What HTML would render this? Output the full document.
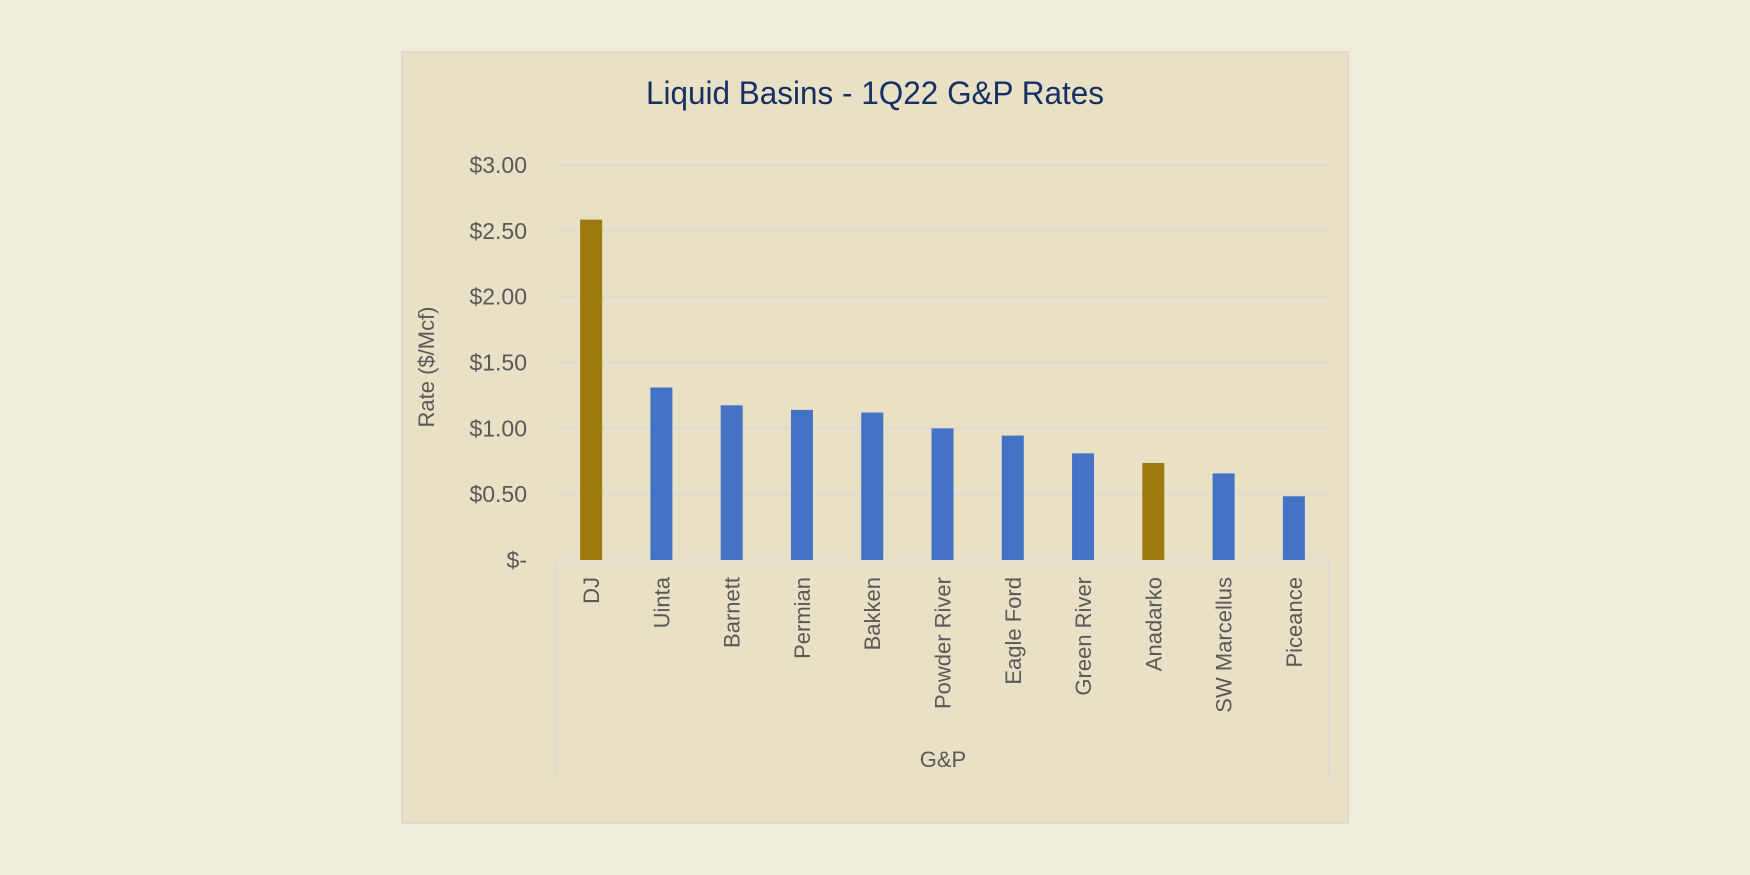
<!DOCTYPE html>
<html><head><meta charset="utf-8"><style>
html,body{margin:0;padding:0;background:#f1eddc;width:1750px;height:875px;overflow:hidden}
svg{display:block;font-family:"Liberation Sans",sans-serif}
</style></head><body>
<svg id="chart" width="1750" height="875" viewBox="0 0 1750 875" xmlns="http://www.w3.org/2000/svg">
<rect x="402" y="52" width="946" height="771" fill="#e8e1c5" stroke="#d9d6cc" stroke-width="1.5"/>
<text x="875" y="104" text-anchor="middle" font-size="32" fill="#172f63" textLength="458" lengthAdjust="spacingAndGlyphs">Liquid Basins - 1Q22 G&amp;P Rates</text>
<text transform="translate(434,367) rotate(-90)" text-anchor="middle" font-size="22" fill="#595959">Rate ($/Mcf)</text>
<text x="943" y="767" text-anchor="middle" font-size="22" fill="#595959">G&amp;P</text>
<g id="grid"></g><g id="bars"></g><g id="labels"></g>
</svg>
<script>
const categories = ["DJ","Uinta","Barnett","Permian","Bakken","Powder River","Eagle Ford","Green River","Anadarko","SW Marcellus","Piceance"];
const values = [2.585,1.31,1.175,1.14,1.12,1.0,0.945,0.81,0.737,0.658,0.484];
const highlighted = [true,false,false,false,false,false,false,false,true,false,false];
const yTicks = [0,0.5,1,1.5,2,2.5,3];
const yTickLabels = ["$-","$0.50","$1.00","$1.50","$2.00","$2.50","$3.00"];

const NS = "http://www.w3.org/2000/svg";
const plotL = 556, plotR = 1329, baseY = 560, topY = 165, yMax = 3;
const band = (plotR - plotL) / categories.length;
const barW = 22;
const y = v => baseY - (v / yMax) * (baseY - topY);
const xC = i => plotL + band * (i + 0.5);
function mk(tag, attrs, parent){const e=document.createElementNS(NS,tag);for(const k in attrs)e.setAttribute(k,attrs[k]);parent.appendChild(e);return e;}
const grid = document.getElementById('grid'), bars = document.getElementById('bars'), labels = document.getElementById('labels');

yTicks.forEach((t,i)=>{
  if(t>0){
    const g = mk('line',{x1:plotL,x2:plotR,y1:y(t),y2:y(t),stroke:'#d9d9d9','stroke-width':1.5},grid);
    
    
  }
  const tx = mk('text',{x:527,y:y(t)+8,'text-anchor':'end','font-size':23,fill:'#595959'},grid);
  tx.textContent = yTickLabels[i];
  
  
});
// category axis box
const ax = mk('path',{d:`M${plotL},775 V${baseY} H${plotR} V775`,fill:'none',stroke:'#d9d9d9','stroke-width':1.5},grid);



categories.forEach((c,i)=>{
  const r = mk('rect',{x:xC(i)-barW/2,y:y(values[i]),width:barW,height:baseY-y(values[i]),fill:highlighted[i]?'#9c7a0d':'#4472c4'},bars);
  
  
  const t = mk('text',{transform:`translate(${xC(i)+8},577) rotate(-90)`,'text-anchor':'end','font-size':22,fill:'#595959'},labels);
  t.textContent = c;
  
  
});
</script>
</body></html>
